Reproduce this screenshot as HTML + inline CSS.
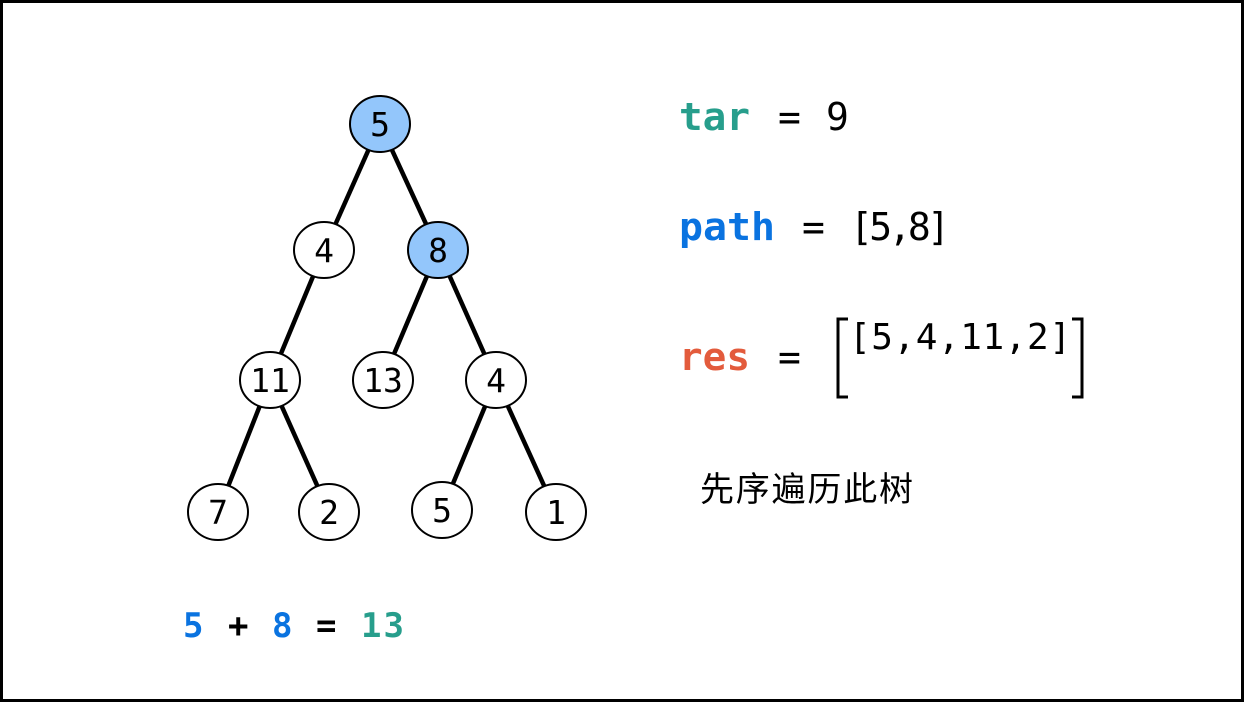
<!DOCTYPE html>
<html><head><meta charset="utf-8"><style>
html,body{margin:0;padding:0;background:#fff}
</style></head><body>
<svg width="1244" height="702" viewBox="0 0 1244 702" xmlns="http://www.w3.org/2000/svg">
<rect x="1.5" y="1.5" width="1241" height="699" fill="#fff" stroke="#000" stroke-width="3"/>
<g stroke="#000" stroke-width="4.5">
<line x1="380" y1="124" x2="324" y2="250"/>
<line x1="380" y1="124" x2="438" y2="250"/>
<line x1="324" y1="250" x2="270" y2="380"/>
<line x1="438" y1="250" x2="383" y2="380"/>
<line x1="438" y1="250" x2="496" y2="380"/>
<line x1="270" y1="380" x2="218" y2="512"/>
<line x1="270" y1="380" x2="329" y2="512"/>
<line x1="496" y1="380" x2="442" y2="510"/>
<line x1="496" y1="380" x2="556" y2="512"/>
</g>
<g stroke="#000" stroke-width="2">
<ellipse cx="380" cy="124" rx="30" ry="28" fill="#93c6fb"/>
<ellipse cx="324" cy="250" rx="30" ry="28" fill="#fff"/>
<ellipse cx="438" cy="250" rx="30" ry="28" fill="#93c6fb"/>
<ellipse cx="270" cy="380" rx="30" ry="28" fill="#fff"/>
<ellipse cx="383" cy="380" rx="30" ry="28" fill="#fff"/>
<ellipse cx="496" cy="380" rx="30" ry="28" fill="#fff"/>
<ellipse cx="218" cy="512" rx="30" ry="28" fill="#fff"/>
<ellipse cx="329" cy="512" rx="30" ry="28" fill="#fff"/>
<ellipse cx="442" cy="510" rx="30" ry="28" fill="#fff"/>
<ellipse cx="556" cy="512" rx="30" ry="28" fill="#fff"/>
</g>
<g font-family="DejaVu Sans Mono, Liberation Mono, monospace" font-size="33" text-anchor="middle" fill="#000">
<text x="380" y="136">5</text>
<text x="324" y="262">4</text>
<text x="438" y="262">8</text>
<text x="270" y="392">11</text>
<text x="383" y="392">13</text>
<text x="496" y="392">4</text>
<text x="218" y="524">7</text>
<text x="329" y="524">2</text>
<text x="442" y="522">5</text>
<text x="556" y="524">1</text>
</g>
<g font-family="DejaVu Sans Mono, Liberation Mono, monospace" font-size="38" fill="#000">
<text x="679" y="130" font-weight="bold" fill="#279e8c" textLength="71" lengthAdjust="spacingAndGlyphs">tar</text>
<text x="778" y="130">=</text>
<text x="826" y="130">9</text>
<text x="679" y="240" font-weight="bold" fill="#0a73e0" textLength="96" lengthAdjust="spacingAndGlyphs">path</text>
<text x="802" y="240">=</text>
<text x="850" y="240" textLength="100">[5,8]</text>
<text x="679" y="370" font-weight="bold" fill="#e35b3c" textLength="71" lengthAdjust="spacingAndGlyphs">res</text>
<text x="778" y="370">=</text>
<text x="849" y="349" font-size="36" textLength="222">[5,4,11,2]</text>
</g>
<path d="M848 319 H838 V397 H848 M1072 319 H1082 V397 H1072" fill="none" stroke="#000" stroke-width="3"/>
<text x="700" y="501" font-family="Liberation Sans, Noto Sans CJK SC, sans-serif" font-size="34" fill="#000" textLength="213">先序遍历此树</text>
<g font-family="DejaVu Sans Mono, Liberation Mono, monospace" font-size="34" font-weight="bold">
<text x="183" y="637" fill="#0a73e0">5</text>
<text x="228" y="637" fill="#000">+</text>
<text x="272" y="637" fill="#0a73e0">8</text>
<text x="316" y="637" fill="#000">=</text>
<text x="361" y="637" fill="#279e8c" textLength="43">13</text>
</g>
</svg>
</body></html>
